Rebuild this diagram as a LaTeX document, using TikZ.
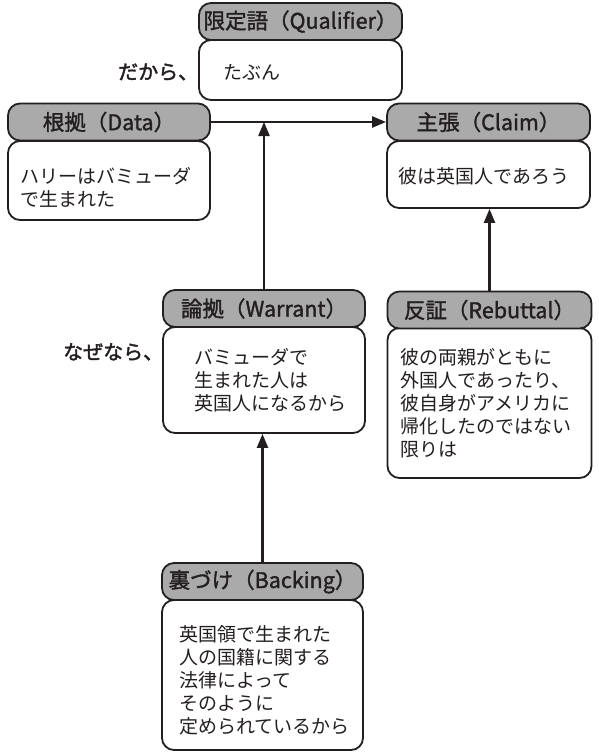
\documentclass[tikz,border=0pt]{standalone}
\usepackage{fontspec}
\setmainfont{Noto Sans CJK JP}
\newfontfamily\hjp[FakeBold=1.5]{Noto Sans CJK JP}
\newfontfamily\ljp[FakeBold=2]{Noto Sans CJK JP}
\usetikzlibrary{arrows.meta}
\definecolor{lc}{HTML}{231F20}
\definecolor{hg}{HTML}{AAAAAA}
\tikzset{
 hdr/.style={draw=lc, fill=hg, line width=1.8pt, rounded corners=12pt, minimum height=37pt, inner sep=0pt, font=\hjp\fontsize{21.5}{24}\selectfont, text=lc},
 bdy/.style={draw=lc, fill=white, line width=1.8pt, rounded corners=12pt, inner sep=0pt},
 txt/.style={anchor=west, align=left, inner sep=0pt, font=\fontsize{19}{23}\selectfont, text=lc},
 lbl/.style={anchor=west, inner sep=0pt, font=\ljp\fontsize{20}{23}\selectfont, text=lc},
 arr/.style={line width=2.3pt, draw=lc, -{Triangle[length=14pt,width=11pt]}}
}
\begin{document}
\begin{tikzpicture}[x=1pt,y=-1pt]
\useasboundingbox (0,0) rectangle (599,753);
% Qualifier
\node[bdy, minimum width=203pt, minimum height=60pt] (qb) at (300.5,70) {};
\node[hdr, minimum width=203pt] (qh) at (300.5,21.5) {限定語（Qualifier）};
\node[txt] (qt) at (223,72) {たぶん};
\node[lbl] (ql) at (118,72) {だから、};
% Data
\node[bdy, minimum width=202pt, minimum height=79pt] (db) at (109,180.5) {};
\node[hdr, minimum width=202pt] (dh) at (109,122) {根拠（Data）};
\node[txt] (dt) at (20,187) {ハリーはバミューダ\\で生まれた};
% Claim
\node[bdy, minimum width=203pt, minimum height=67pt] (cb) at (488.5,174.5) {};
\node[hdr, minimum width=203pt] (ch) at (488.5,122) {主張（Claim）};
\node[txt] (ct) at (398,176) {彼は英国人であろう};
% Warrant
\node[bdy, minimum width=202pt, minimum height=106pt] (wb) at (264,380) {};
\node[hdr, minimum width=202pt] (wh) at (264,308.5) {論拠（Warrant）};
\node[txt] (wt) at (194,380) {バミューダで\\生まれた人は\\英国人になるから};
\node[lbl] (wl) at (63,352) {なぜなら、};
% Rebuttal
\node[bdy, minimum width=204pt, minimum height=150pt] (rb) at (489.5,403) {};
\node[hdr, minimum width=204pt] (rh) at (489.5,310) {反証（Rebuttal）};
\node[txt] (rt) at (400,403) {彼の両親がともに\\外国人であったり、\\彼自身がアメリカに\\帰化したのではない\\限りは};
% Backing
\node[bdy, minimum width=201pt, minimum height=150pt] (bb) at (262.5,675) {};
\node[hdr, minimum width=201pt] (bh) at (262.5,581.5) {裏づけ（Backing）};
\node[txt] (bt) at (179,680) {英国領で生まれた\\人の国籍に関する\\法律によって\\そのように\\定められているから};
% arrows
\coordinate (wj) at (264,122);
\draw[arr] (dh.east) -- (ch.west);
\draw[arr] (wh.north) -- (wj);
\draw[arr] (rh.north) -- (rh.north |- cb.south);
\draw[arr] (bh.north) -- (bh.north |- wb.south);
\end{tikzpicture}
\end{document}
